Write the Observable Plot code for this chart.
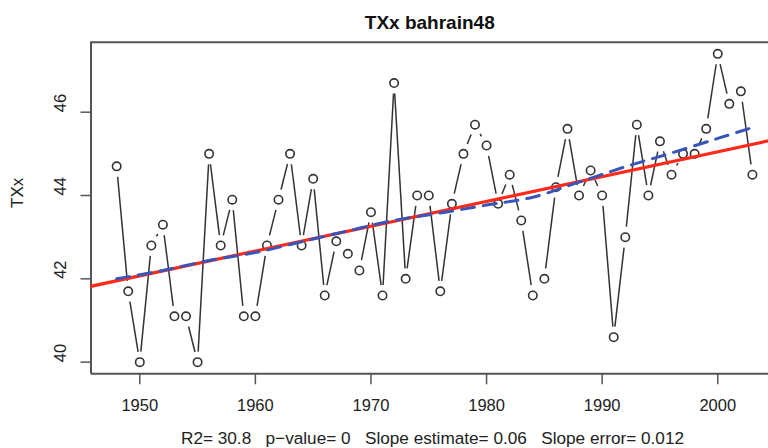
<!DOCTYPE html>
<html>
<head>
<meta charset="utf-8">
<script src="https://cdn.jsdelivr.net/npm/d3@7"></script>
<script src="https://cdn.jsdelivr.net/npm/@observablehq/plot@0.6"></script>
<style>
  html, body { margin: 0; padding: 0; background: #fff; }
  #chart { width: 768px; height: 448px; overflow: hidden; }
</style>
</head>
<body>
<div id="chart"></div>
<script>
const title = "TXx bahrain48";
const yLabel = "TXx";
const sp = "\u00a0\u00a0\u00a0";
const caption = "R2= 30.8" + sp + "p\u2212value= 0" + sp + "Slope estimate= 0.06" + sp + "Slope error= 0.012";

const years = d3.range(1948, 2004);
const txx = [
  44.7, 41.7, 40.0, 42.8, 43.3, 41.1, 41.1, 40.0, 45.0, 42.8,
  43.9, 41.1, 41.1, 42.8, 43.9, 45.0, 42.8, 44.4, 41.6, 42.9,
  42.6, 42.2, 43.6, 41.6, 46.7, 42.0, 44.0, 44.0, 41.7, 43.8,
  45.0, 45.7, 45.2, 43.8, 44.5, 43.4, 41.6, 42.0, 44.2, 45.6,
  44.0, 44.6, 44.0, 40.6, 43.0, 45.7, 44.0, 45.3, 44.5, 45.0,
  45.0, 45.6, 47.4, 46.2, 46.5, 44.5
];

// smoothed (blue dashed) trend
const smoothYears = [1948, 1952, 1956, 1960, 1964, 1968, 1972, 1976, 1980, 1984, 1988, 1992, 1996, 2000, 2003];
const smoothVals  = [42.00, 42.20, 42.44, 42.63, 42.89, 43.15, 43.40, 43.58, 43.77, 43.96, 44.32, 44.69, 45.02, 45.37, 45.63];

const xTicks = [1950, 1960, 1970, 1980, 1990, 2000];
const yTicks = [40, 42, 44, 46];

const xDomain = [1945.78, 2004.39];
const yDomain = [39.72, 47.68];

const W = 768, H = 448, mL = 90.5, mR = 0, mT = 41.7, mB = 74.7;

const data = years.map((y, i) => ({year: y, v: txx[i]}));
const smooth = smoothYears.map((y, i) => ({year: y, v: smoothVals[i]}));

// ordinary least squares fit
const mx = d3.mean(years), my = d3.mean(txx);
let sxy = 0, sxx = 0;
years.forEach((x, i) => { sxy += (x - mx) * (txx[i] - my); sxx += (x - mx) ** 2; });
const slope = sxy / sxx, intercept = my - slope * mx;
const fit = [xDomain[0] - 2, xDomain[1] + 2].map(x => ({year: x, v: intercept + slope * x}));

// R type="b": segments between points, with a gap around each point
const kx = (W - mL - mR) / (xDomain[1] - xDomain[0]);   // px per year
const ky = (H - mT - mB) / (yDomain[1] - yDomain[0]);   // px per unit
const gap = 10.5;
const segs = [];
for (let i = 0; i < data.length - 1; i++) {
  const a = data[i], b = data[i + 1];
  const dxp = (b.year - a.year) * kx, dyp = (b.v - a.v) * ky;
  const len = Math.hypot(dxp, dyp);
  if (len <= 2 * gap) continue;
  const t = gap / len;
  segs.push({
    x1: a.year + (b.year - a.year) * t, y1: a.v + (b.v - a.v) * t,
    x2: b.year - (b.year - a.year) * t, y2: b.v - (b.v - a.v) * t
  });
}

const font = "'Liberation Sans', Arial, Helvetica, sans-serif";
const gray = "#555";

const plot = Plot.plot({
  width: W,
  height: H,
  marginLeft: mL,
  marginRight: mR,
  marginTop: mT,
  marginBottom: mB,
  style: {fontFamily: font, background: "#fff", color: "#222"},
  x: {domain: xDomain, axis: null},
  y: {domain: yDomain, axis: null},
  marks: [
    // box (left, top, bottom)
    Plot.ruleX([xDomain[0]], {stroke: gray, strokeWidth: 2}),
    Plot.ruleY([yDomain[1]], {stroke: gray, strokeWidth: 2}),
    Plot.ruleY([yDomain[0]], {stroke: gray, strokeWidth: 2}),
    // axes ticks
    Plot.axisX({ticks: xTicks, tickSize: 11, tickPadding: 14, fontSize: 16.5, stroke: gray, strokeWidth: 1.5, fill: "#222", tickFormat: d => String(d), label: null}),
    Plot.axisY({ticks: yTicks, tickSize: 10, stroke: gray, strokeWidth: 1.5, tickFormat: () => "", label: null}),
    Plot.text(yTicks, {y: d => d, frameAnchor: "left", dx: -30, rotate: -90, text: d => String(d), fontSize: 16.5, fill: "#222"}),
    // series
    Plot.link(segs, {x1: "x1", y1: "y1", x2: "x2", y2: "y2", stroke: "#333", strokeWidth: 1.5}),
    Plot.dot(data, {x: "year", y: "v", r: 4.2, fill: "none", stroke: "#333", strokeWidth: 1.6}),
    // trends
    Plot.line(fit, {x: "year", y: "v", stroke: "#ff2a1a", strokeWidth: 3.2, clip: true}),
    Plot.line(smooth, {x: "year", y: "v", stroke: "#3a55b8", strokeWidth: 3, strokeDasharray: "13 9", curve: "catmull-rom"}),
    // texts
    Plot.text([title], {frameAnchor: "top", lineAnchor: "middle", dy: -19, text: d => d, fontSize: 19, fontWeight: "bold", fill: "#111"}),
    Plot.text([yLabel], {frameAnchor: "left", lineAnchor: "middle", dx: -73.2, rotate: -90, text: d => d, fontSize: 17, fill: "#222"}),
    Plot.text([caption], {frameAnchor: "bottom", lineAnchor: "middle", dy: 64.7, dx: 2.75, text: d => d, fontSize: 17.2, fill: "#222"})
  ]
});
document.getElementById("chart").appendChild(plot);
</script>
</body>
</html>
